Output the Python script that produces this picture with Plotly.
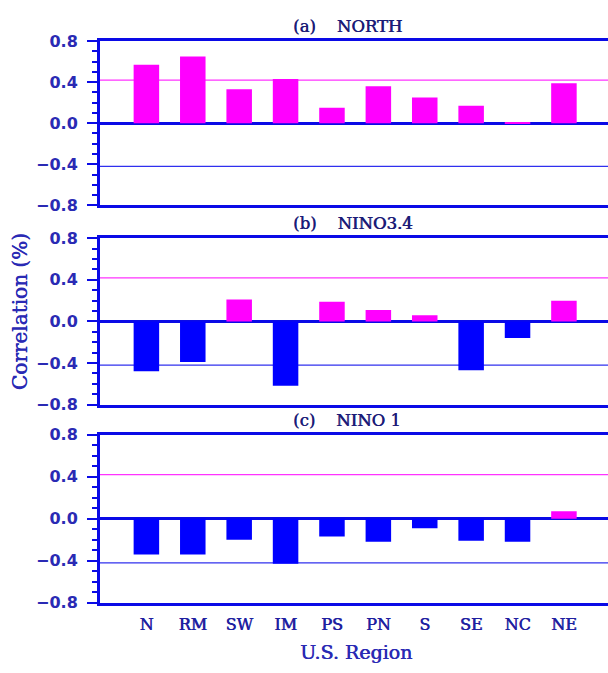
import plotly.graph_objects as go

regions = ["N", "RM", "SW", "IM", "PS", "PN", "S", "SE", "NC", "NE"]
north = [0.57, 0.65, 0.33, 0.43, 0.15, 0.36, 0.25, 0.17, 0.01, 0.39]
nino34 = [-0.48, -0.39, 0.21, -0.62, 0.19, 0.11, 0.06, -0.47, -0.16, 0.20]
nino1 = [-0.34, -0.34, -0.20, -0.43, -0.17, -0.22, -0.09, -0.21, -0.22, 0.07]
panel_titles = ["(a)\u00a0\u00a0\u00a0\u00a0NORTH", "(b)\u00a0\u00a0\u00a0\u00a0NINO3.4", "(c)\u00a0\u00a0\u00a0\u00a0NINO 1"]
sig_level = 0.42
y_ticks = [-0.8, -0.4, 0.0, 0.4, 0.8]

W, H = 608, 673
POS = "#ff00ff"
NEG = "#0000ff"
AX = "#0a0ae6"
TXT = "#2a2ab4"
CAT = "#2020a0"
TTL = "#1c1c78"
SERIF = "DejaVu Serif"
SANS = "DejaVu Sans"


def thick(c):
    return f"0.6px 0px 0px {c}"


# panel pixel boxes (top, bottom)
boxes = [(33, 202), (236, 407), (438, 611)]
L = 100

fig = go.Figure()
series = [north, nino34, nino1]
for i, vals in enumerate(series):
    n = i + 1
    fig.add_trace(go.Bar(
        x=regions, y=vals,
        marker=dict(color=[POS if v >= 0 else NEG for v in vals], line=dict(width=0)),
        width=0.55,
        xaxis=f"x{n}" if n > 1 else "x", yaxis=f"y{n}" if n > 1 else "y",
        showlegend=False, hoverinfo="x+y",
    ))

layout = dict(
    width=W, height=H,
    margin=dict(l=L, r=0, t=0, b=0),
    paper_bgcolor="white", plot_bgcolor="white",
    bargap=0.45,
)
for i, (top, bot) in enumerate(boxes):
    n = i + 1
    sx = "" if n == 1 else str(n)
    dom = [(H - bot) / H, (H - top) / H]
    layout[f"xaxis{sx}"] = dict(
        domain=[0, 1], anchor=f"y{sx}", range=[-1, 9.95],
        type="category", categoryorder="array", categoryarray=regions,
        showline=True, mirror=True, linecolor=AX, linewidth=3,
        showgrid=False, zeroline=False, ticks="",
        showticklabels=(n == 3),
        tickfont=dict(family=SERIF, size=16, color=CAT, shadow=thick(CAT)),
        ticklabelstandoff=5,
    )
    layout[f"yaxis{sx}"] = dict(
        domain=dom, anchor=f"x{sx}", range=[-0.8, 0.8],
        tickvals=y_ticks, tickformat=".1f",
        ticks="outside", ticklen=10, tickwidth=2, tickcolor=AX,
        minor=dict(dtick=0.1, tick0=0, ticks="outside", ticklen=5, tickwidth=1.5, tickcolor=AX, showgrid=False),
        showline=True, mirror=False, linecolor=AX, linewidth=3,
        showgrid=False, zeroline=True, zerolinecolor=AX, zerolinewidth=3,
        tickfont=dict(family=SANS, size=16, color=TXT, weight="bold"),
        ticklabelstandoff=6,
    )
fig.update_layout(**layout)

shapes = []
annotations = []
for i, (top, bot) in enumerate(boxes):
    n = i + 1
    sx = "" if n == 1 else str(n)
    shapes.append(dict(type="line", xref=f"x{sx} domain", yref=f"y{sx}", x0=0, x1=1,
                       y0=sig_level, y1=sig_level, line=dict(color="#ff33ff", width=1.3), layer="below"))
    shapes.append(dict(type="line", xref=f"x{sx} domain", yref=f"y{sx}", x0=0, x1=1,
                       y0=-sig_level, y1=-sig_level, line=dict(color="#3030ee", width=1.2), layer="below"))
    annotations.append(dict(text=panel_titles[i], xref="paper", yref="paper",
                            x=(291 - L) / (W - L), y=1 - (top - 15) / H,
                            xanchor="left", yanchor="middle", showarrow=False,
                            font=dict(family=SERIF, size=16.5, color=TTL, shadow=thick(TTL))))

annotations.append(dict(text="Correlation (%)", xref="paper", yref="paper",
                        x=(20 - L) / (W - L), y=1 - 312 / H, textangle=-90,
                        xanchor="center", yanchor="middle", showarrow=False,
                        font=dict(family=SERIF, size=20, color=TXT, shadow=thick(TXT))))
annotations.append(dict(text="U.S. Region", xref="paper", yref="paper",
                        x=(356 - L) / (W - L), y=1 - 662 / H,
                        xanchor="center", yanchor="middle", showarrow=False,
                        font=dict(family=SERIF, size=19, color=TXT, shadow=thick(TXT))))
fig.update_layout(shapes=shapes, annotations=annotations)

fig.write_html("out.html")
